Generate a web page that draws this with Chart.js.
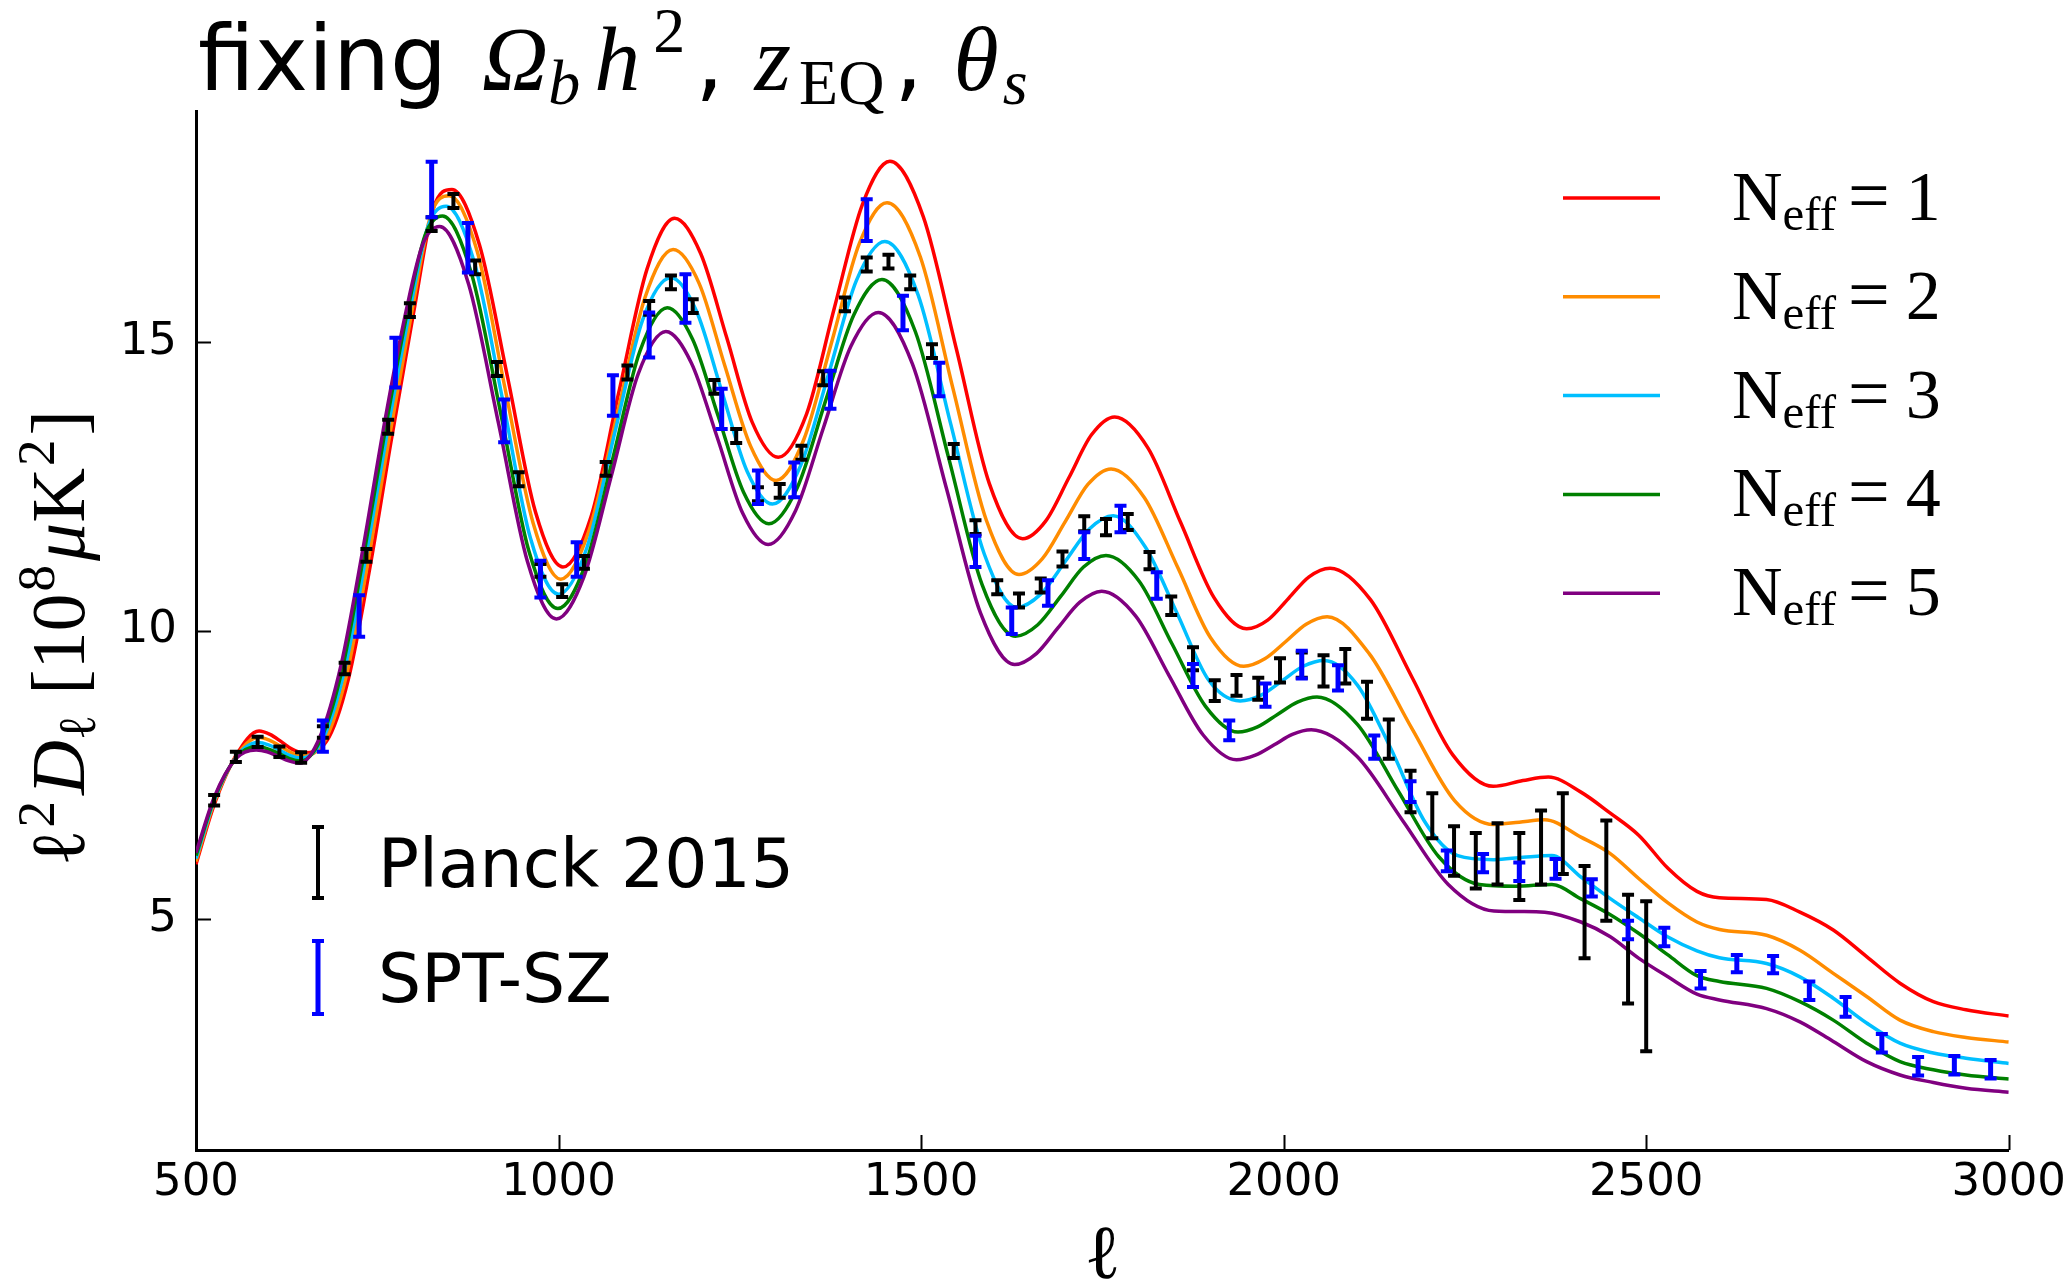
<!DOCTYPE html>
<html>
<head>
<meta charset="utf-8">
<title>Neff spectra</title>
<script src="https://cdn.jsdelivr.net/npm/chart.js@4.4.1/dist/chart.umd.min.js"></script>
<style>
  html, body { margin: 0; padding: 0; background: #fff; }
  #wrap { width: 2072px; height: 1284px; }
</style>
</head>
<body>
<div id="wrap"><canvas id="spectrumChart" width="2072" height="1284"></canvas></div>
<script>
// Theory curves, one l-grid per N_eff value
const ellN1 = [500, 525, 555, 587, 602, 618, 633, 648, 680, 710, 740, 770, 800, 827, 853, 891, 930, 968, 1006, 1045, 1083, 1122, 1160, 1196, 1232, 1267, 1303, 1342, 1380, 1419, 1457, 1503, 1549, 1594, 1640, 1672, 1704, 1735, 1767, 1813, 1858, 1904, 1949, 1978, 2007, 2035, 2064, 2120, 2177, 2233, 2289, 2330, 2365, 2410, 2450, 2490, 2530, 2570, 2601, 2666, 2712, 2758, 2804, 2850, 2896, 2941, 3000];
const valN1 = [5.95, 6.98, 7.83, 8.26, 8.20, 8.07, 7.94, 7.88, 8.08, 9.15, 11.1, 13.35, 15.5, 17.3, 17.64, 16.68, 14.37, 12.06, 11.10, 11.98, 14.12, 16.26, 17.14, 16.53, 15.07, 13.61, 13.00, 13.75, 15.57, 17.38, 18.13, 17.17, 14.86, 12.55, 11.59, 11.90, 12.65, 13.39, 13.70, 13.16, 11.87, 10.57, 10.03, 10.18, 10.56, 10.93, 11.08, 10.53, 9.19, 7.85, 7.30, 7.40, 7.46, 7.20, 6.84, 6.45, 5.88, 5.48, 5.37, 5.34, 5.12, 4.81, 4.35, 3.89, 3.57, 3.43, 3.32];

const ellN2 = [500, 525, 555, 586, 601, 617, 632, 647, 678, 708, 738, 768, 798, 824, 849, 888, 926, 965, 1003, 1042, 1081, 1119, 1158, 1194, 1229, 1265, 1300, 1338, 1377, 1415, 1453, 1499, 1544, 1590, 1635, 1667, 1699, 1730, 1762, 1808, 1854, 1899, 1945, 1974, 2003, 2031, 2060, 2118, 2177, 2236, 2290, 2325, 2360, 2410, 2450, 2490, 2530, 2570, 2601, 2666, 2712, 2758, 2804, 2850, 2896, 2941, 3000];
const valN2 = [6.00, 7.02, 7.81, 8.15, 8.10, 7.99, 7.88, 7.83, 8.10, 9.25, 11.25, 13.45, 15.55, 17.2, 17.53, 16.56, 14.21, 11.86, 10.89, 11.73, 13.75, 15.76, 16.60, 16.01, 14.60, 13.19, 12.60, 13.30, 15.01, 16.71, 17.41, 16.47, 14.19, 11.91, 10.97, 11.24, 11.89, 12.53, 12.80, 12.30, 11.09, 9.88, 9.38, 9.51, 9.81, 10.11, 10.24, 9.60, 8.30, 7.05, 6.64, 6.68, 6.72, 6.42, 6.14, 5.70, 5.28, 4.95, 4.82, 4.72, 4.46, 4.06, 3.66, 3.25, 3.05, 2.95, 2.87];

const ellN3 = [500, 525, 555, 585, 600, 615, 630, 645, 675, 705, 735, 765, 795, 820, 845, 884, 923, 961, 1000, 1039, 1078, 1116, 1155, 1190, 1225, 1260, 1295, 1334, 1373, 1411, 1450, 1496, 1541, 1587, 1632, 1665, 1699, 1732, 1765, 1809, 1853, 1896, 1940, 1969, 1998, 2027, 2056, 2102, 2148, 2194, 2240, 2290, 2330, 2370, 2410, 2450, 2490, 2530, 2570, 2601, 2666, 2712, 2758, 2804, 2850, 2896, 2941, 3000];
const valN3 = [6.05, 7.05, 7.80, 8.06, 8.02, 7.93, 7.83, 7.79, 8.12, 9.32, 11.32, 13.52, 15.55, 17.0, 17.35, 16.37, 13.99, 11.61, 10.63, 11.43, 13.45, 15.38, 16.11, 15.54, 14.15, 12.76, 12.19, 12.86, 14.47, 16.07, 16.74, 15.81, 13.57, 11.33, 10.40, 10.63, 11.20, 11.76, 11.99, 11.45, 10.30, 9.15, 8.78, 8.88, 9.13, 9.38, 9.48, 9.05, 7.95, 6.70, 6.10, 6.03, 6.07, 6.10, 5.73, 5.36, 5.02, 4.69, 4.45, 4.33, 4.23, 4.00, 3.63, 3.20, 2.85, 2.68, 2.59, 2.50];

const ellN4 = [500, 525, 555, 584, 599, 614, 629, 644, 673, 702, 732, 762, 792, 816, 840, 880, 920, 959, 999, 1037, 1075, 1112, 1150, 1185, 1220, 1255, 1290, 1329, 1368, 1407, 1446, 1492, 1538, 1584, 1630, 1661, 1693, 1724, 1755, 1801, 1846, 1892, 1937, 1964, 1992, 2019, 2046, 2102, 2158, 2214, 2270, 2320, 2370, 2410, 2450, 2490, 2530, 2570, 2601, 2666, 2712, 2758, 2804, 2850, 2896, 2941, 3000];
const valN4 = [6.10, 7.08, 7.79, 7.99, 7.95, 7.87, 7.78, 7.74, 8.14, 9.35, 11.35, 13.55, 15.55, 16.85, 17.18, 16.18, 13.78, 11.38, 10.38, 11.14, 12.99, 14.83, 15.59, 15.04, 13.72, 12.40, 11.85, 12.47, 13.97, 15.46, 16.08, 15.18, 12.99, 10.80, 9.90, 10.10, 10.60, 11.10, 11.30, 10.85, 9.77, 8.69, 8.24, 8.33, 8.55, 8.76, 8.85, 8.37, 7.22, 6.08, 5.60, 5.57, 5.60, 5.35, 5.08, 4.75, 4.38, 4.02, 3.92, 3.80, 3.57, 3.25, 2.85, 2.53, 2.39, 2.30, 2.23];

const ellN5 = [500, 525, 555, 583, 598, 613, 628, 643, 671, 700, 730, 760, 790, 813, 836, 876, 917, 957, 997, 1035, 1073, 1110, 1148, 1183, 1219, 1254, 1289, 1327, 1365, 1403, 1441, 1488, 1535, 1582, 1629, 1659, 1689, 1719, 1749, 1796, 1842, 1889, 1935, 1961, 1987, 2012, 2038, 2101, 2164, 2227, 2290, 2330, 2360, 2410, 2450, 2490, 2530, 2570, 2601, 2666, 2712, 2758, 2804, 2850, 2896, 2941, 3000];
const valN5 = [6.15, 7.11, 7.78, 7.93, 7.90, 7.82, 7.74, 7.70, 8.16, 9.40, 11.40, 13.60, 15.55, 16.70, 17.00, 16.00, 13.60, 11.20, 10.20, 10.93, 12.69, 14.45, 15.18, 14.64, 13.34, 12.03, 11.49, 12.08, 13.50, 14.92, 15.51, 14.62, 12.46, 10.30, 9.41, 9.60, 10.05, 10.49, 10.68, 10.25, 9.22, 8.19, 7.76, 7.84, 8.02, 8.20, 8.28, 7.82, 6.71, 5.60, 5.14, 5.13, 5.12, 4.95, 4.70, 4.32, 4.00, 3.70, 3.60, 3.45, 3.22, 2.88, 2.53, 2.30, 2.17, 2.07, 2.00];

const neffValues = [1, 2, 3, 4, 5];
const curveColors = ["#ff0000", "#ff8c00", "#00bfff", "#008000", "#800080"];

// Planck 2015 binned TT
const planckEll = [525, 555, 585, 615, 645, 675, 705, 735, 765, 795, 825, 855, 885, 915, 945, 975, 1005, 1035, 1065, 1095, 1125, 1155, 1185, 1215, 1245, 1275, 1305, 1335, 1365, 1395, 1425, 1455, 1485, 1515, 1545, 1575, 1605, 1635, 1665, 1695, 1725, 1755, 1785, 1815, 1845, 1875, 1905, 1935, 1965, 1995, 2025, 2055, 2085, 2115, 2145, 2175, 2205, 2235, 2265, 2295, 2325, 2355, 2385, 2415, 2445, 2475, 2500];
const planckVal = [7.06, 7.81, 8.07, 7.90, 7.80, 8.24, 9.34, 11.30, 13.53, 15.55, 17.04, 17.44, 16.29, 14.53, 12.62, 11.04, 10.69, 11.18, 12.80, 14.47, 15.59, 16.03, 15.62, 14.22, 13.37, 12.36, 12.42, 13.08, 14.37, 15.65, 16.34, 16.39, 16.03, 14.84, 13.11, 11.79, 10.75, 10.52, 10.78, 11.24, 11.85, 11.79, 11.88, 11.21, 10.43, 9.51, 8.96, 9.05, 8.99, 9.31, 9.40, 9.30, 9.38, 8.79, 8.12, 7.21, 6.79, 6.18, 6.01, 6.13, 5.91, 6.24, 6.48, 5.12, 5.84, 4.48, 4.01];
const planckErr = [0.09, 0.09, 0.09, 0.09, 0.09, 0.10, 0.10, 0.11, 0.12, 0.12, 0.12, 0.12, 0.12, 0.12, 0.12, 0.11, 0.11, 0.11, 0.12, 0.12, 0.12, 0.12, 0.12, 0.12, 0.12, 0.12, 0.12, 0.12, 0.12, 0.12, 0.12, 0.12, 0.12, 0.12, 0.12, 0.12, 0.12, 0.12, 0.12, 0.13, 0.13, 0.14, 0.14, 0.15, 0.16, 0.20, 0.18, 0.18, 0.19, 0.21, 0.22, 0.27, 0.30, 0.32, 0.34, 0.36, 0.39, 0.43, 0.48, 0.53, 0.58, 0.64, 0.70, 0.80, 0.87, 0.94, 1.30];

// SPT-SZ bandpowers
const sptEll = [675, 725, 775, 825, 875, 925, 975, 1025, 1075, 1125, 1175, 1225, 1275, 1325, 1375, 1425, 1475, 1525, 1575, 1625, 1675, 1725, 1775, 1825, 1875, 1925, 1975, 2025, 2075, 2125, 2175, 2225, 2275, 2325, 2375, 2425, 2475, 2525, 2575, 2625, 2675, 2725, 2775, 2825, 2875, 2925, 2975];
const sptVal = [8.17, 10.25, 14.64, 17.64, 16.63, 13.63, 10.89, 11.23, 14.07, 15.12, 15.75, 13.84, 12.48, 12.61, 14.17, 17.11, 15.50, 14.35, 11.37, 10.17, 10.65, 11.47, 11.93, 10.78, 9.22, 8.27, 8.88, 9.41, 9.18, 7.98, 7.21, 6.01, 5.97, 5.82, 5.87, 5.54, 4.81, 4.69, 3.95, 4.23, 4.21, 3.76, 3.48, 2.85, 2.45, 2.47, 2.40];
const sptErr = [0.27, 0.36, 0.43, 0.48, 0.43, 0.37, 0.32, 0.30, 0.35, 0.39, 0.42, 0.35, 0.29, 0.30, 0.33, 0.36, 0.30, 0.29, 0.27, 0.23, 0.22, 0.23, 0.23, 0.23, 0.20, 0.17, 0.20, 0.24, 0.22, 0.20, 0.18, 0.18, 0.16, 0.16, 0.17, 0.15, 0.16, 0.16, 0.15, 0.15, 0.15, 0.16, 0.17, 0.16, 0.16, 0.16, 0.16];

// Axis ticks
const xTicks = [500, 1000, 1500, 2000, 2500, 3000];
const yTicks = [5, 10, 15];

const sans = '"DejaVu Sans", sans-serif';
const serif = '"Liberation Serif", "DejaVu Serif", serif';

function toPoints(xs, ys) {
  return xs.map((x, i) => ({ x: x, y: ys[i] }));
}

// Draw a run of text pieces (sub/superscripts, mixed fonts) left to right
function drawRich(ctx, parts, x, y) {
  let cx = x;
  parts.forEach((p) => {
    ctx.font = p.f;
    cx += p.pre || 0;
    ctx.fillText(p.t, cx, y + (p.dy || 0));
    cx += ctx.measureText(p.t).width;
  });
  return cx;
}

function richWidth(ctx, parts) {
  let w = 0;
  parts.forEach((p) => {
    ctx.font = p.f;
    w += (p.pre || 0) + ctx.measureText(p.t).width;
  });
  return w;
}

function drawErrorBar(ctx, x, top, bottom, color, lw) {
  ctx.strokeStyle = color;
  ctx.lineCap = "butt";
  ctx.lineWidth = lw;
  ctx.beginPath();
  ctx.moveTo(x, top);
  ctx.lineTo(x, bottom);
  ctx.stroke();
  ctx.lineWidth = 4;
  ctx.beginPath();
  ctx.moveTo(x - 6, top);
  ctx.lineTo(x + 6, top);
  ctx.moveTo(x - 6, bottom);
  ctx.lineTo(x + 6, bottom);
  ctx.stroke();
}

// Error bars for the measurement datasets
const errorBarPlugin = {
  id: "errorBars",
  afterDatasetsDraw(chart) {
    const ctx = chart.ctx;
    const yScale = chart.scales.y;
    ctx.save();
    chart.data.datasets.forEach((ds, i) => {
      if (!ds.errors) return;
      const meta = chart.getDatasetMeta(i);
      meta.data.forEach((pt, j) => {
        const v = ds.data[j].y;
        const e = ds.errors[j];
        const top = yScale.getPixelForValue(v + e);
        const bottom = yScale.getPixelForValue(v - e);
        drawErrorBar(ctx, pt.x, top, bottom, ds.barColor, ds.barWidth);
      });
    });
    ctx.restore();
  },
};

// Inward ticks, title, axis labels and both legends
const decorPlugin = {
  id: "decor",
  afterDraw(chart) {
    const ctx = chart.ctx;
    const area = chart.chartArea;
    const xs = chart.scales.x;
    const ys = chart.scales.y;
    ctx.save();

    // ticks pointing into the plot
    ctx.strokeStyle = "#000";
    ctx.lineWidth = 2;
    ctx.beginPath();
    xTicks.forEach((v) => {
      const px = Math.round(xs.getPixelForValue(v)) + 0.5;
      ctx.moveTo(px, area.bottom);
      ctx.lineTo(px, area.bottom - 15);
    });
    yTicks.forEach((v) => {
      const py = Math.round(ys.getPixelForValue(v)) + 0.5;
      ctx.moveTo(area.left, py);
      ctx.lineTo(area.left + 15, py);
    });
    ctx.stroke();

    ctx.fillStyle = "#000";
    ctx.textBaseline = "alphabetic";
    ctx.textAlign = "left";

    // title
    drawRich(ctx, [
      { t: "fixing ", f: "90px " + sans },
      { t: "\u03A9", f: "italic 92px " + serif, pre: 6 },
      { t: "b", f: "italic 64px " + serif, dy: 14 },
      { t: "h", f: "italic 92px " + serif, pre: 14 },
      { t: "2", f: "64px " + serif, dy: -38, pre: 13 },
      { t: ", ", f: "90px " + sans, pre: 10 },
      { t: "z", f: "italic 94px " + serif, pre: 2 },
      { t: "EQ", f: "64px " + serif, dy: 14, pre: 8 },
      { t: ", ", f: "90px " + sans, pre: 10 },
      { t: "\u03B8", f: "italic 92px " + serif, pre: 2 },
      { t: "s", f: "italic 64px " + serif, dy: 14, pre: 4 },
    ], 198, 90);

    // x axis label
    ctx.font = "76px " + serif;
    ctx.textAlign = "center";
    ctx.fillText("\u2113", (area.left + area.right) / 2, 1278);
    ctx.textAlign = "left";

    // y axis label, rotated
    const F = 76;
    const yLabel = [
      { t: "\u2113", f: F + "px " + serif },
      { t: "2", f: Math.round(F * 0.7) + "px " + serif, dy: -F * 0.4, pre: 2 },
      { t: "D", f: "italic " + F + "px " + serif, pre: 6 },
      { t: "\u2113", f: Math.round(F * 0.7) + "px " + serif, dy: F * 0.15 },
      { t: "[10", f: F + "px " + serif, pre: 20 },
      { t: "8", f: Math.round(F * 0.7) + "px " + serif, dy: -F * 0.4, pre: 2 },
      { t: "\u03BC", f: "italic " + F + "px " + serif, pre: 4 },
      { t: "K", f: F + "px " + serif },
      { t: "2", f: Math.round(F * 0.7) + "px " + serif, dy: -F * 0.4, pre: 2 },
      { t: "]", f: F + "px " + serif, pre: 4 },
    ];
    ctx.save();
    ctx.translate(84, 638);
    ctx.rotate(-Math.PI / 2);
    drawRich(ctx, yLabel, -richWidth(ctx, yLabel) / 2, 0);
    ctx.restore();

    // N_eff legend
    const curves = chart.data.datasets.filter((ds) => ds.neff !== undefined);
    curves.sort((a, b) => a.neff - b.neff);
    curves.forEach((ds, i) => {
      const rowY = 198 + i * 98.8;
      ctx.strokeStyle = ds.borderColor;
      ctx.lineWidth = 3.5;
      ctx.beginPath();
      ctx.moveTo(1563, rowY);
      ctx.lineTo(1660, rowY);
      ctx.stroke();
      drawRich(ctx, [
        { t: "N", f: "70px " + serif },
        { t: "eff", f: "49px " + serif, dy: 10 },
        { t: "=", f: "74px " + serif, pre: 12 },
        { t: String(ds.neff), f: "70px " + serif, pre: 16 },
      ], 1732, rowY + 22);
    });

    // data legend
    drawErrorBar(ctx, 318, 827, 898, "#000", 4);
    drawErrorBar(ctx, 318, 941, 1014, "#0000ff", 5);
    ctx.fillStyle = "#000";
    ctx.font = "68px " + sans;
    ctx.fillText("Planck 2015", 378, 887);
    ctx.fillText("SPT-SZ", 378, 1002);

    ctx.restore();
  },
};

const curveSets = [
  [ellN1, valN1],
  [ellN2, valN2],
  [ellN3, valN3],
  [ellN4, valN4],
  [ellN5, valN5],
];

const datasets = curveSets.map((c, i) => ({
  label: "N_eff = " + neffValues[i],
  neff: neffValues[i],
  data: toPoints(c[0], c[1]),
  borderColor: curveColors[i],
  borderWidth: 3.5,
  pointRadius: 0,
  fill: false,
  cubicInterpolationMode: "monotone",
  order: 5 - i,
}));

datasets.push({
  label: "Planck 2015",
  data: toPoints(planckEll, planckVal),
  errors: planckErr,
  barColor: "#000000",
  barWidth: 4,
  showLine: false,
  pointRadius: 0,
  order: 10,
});

datasets.push({
  label: "SPT-SZ",
  data: toPoints(sptEll, sptVal),
  errors: sptErr,
  barColor: "#0000ff",
  barWidth: 5,
  showLine: false,
  pointRadius: 0,
  order: 11,
});

const ctx = document.getElementById("spectrumChart").getContext("2d");
const spectrumChart = new Chart(ctx, {
  type: "line",
  data: { datasets: datasets },
  options: {
    responsive: false,
    devicePixelRatio: 1,
    animation: false,
    events: [],
    layout: { padding: { top: 111, right: 63, left: 0, bottom: 0 } },
    plugins: {
      legend: { display: false },
      tooltip: { enabled: false },
      title: { display: false },
    },
    scales: {
      x: {
        type: "linear",
        min: 500,
        max: 3000,
        grid: { display: false, drawTicks: false },
        border: { display: true, color: "#000", width: 3 },
        ticks: {
          padding: 6,
          color: "#000",
          maxRotation: 0,
          autoSkip: false,
          font: { family: sans, size: 45 },
          callback: (v) => String(v),
        },
        afterBuildTicks: (s) => {
          s.ticks = xTicks.map((v) => ({ value: v }));
        },
        afterFit: (s) => {
          s.height = 134;
        },
      },
      y: {
        type: "linear",
        min: 1,
        max: 19,
        grid: { display: false, drawTicks: false },
        border: { display: true, color: "#000", width: 3 },
        ticks: {
          padding: 19,
          color: "#000",
          font: { family: sans, size: 45 },
          callback: (v) => String(v),
        },
        afterBuildTicks: (s) => {
          s.ticks = yTicks.map((v) => ({ value: v }));
        },
        afterFit: (s) => {
          s.width = 196;
        },
      },
    },
  },
  plugins: [errorBarPlugin, decorPlugin],
});
</script>
</body>
</html>
